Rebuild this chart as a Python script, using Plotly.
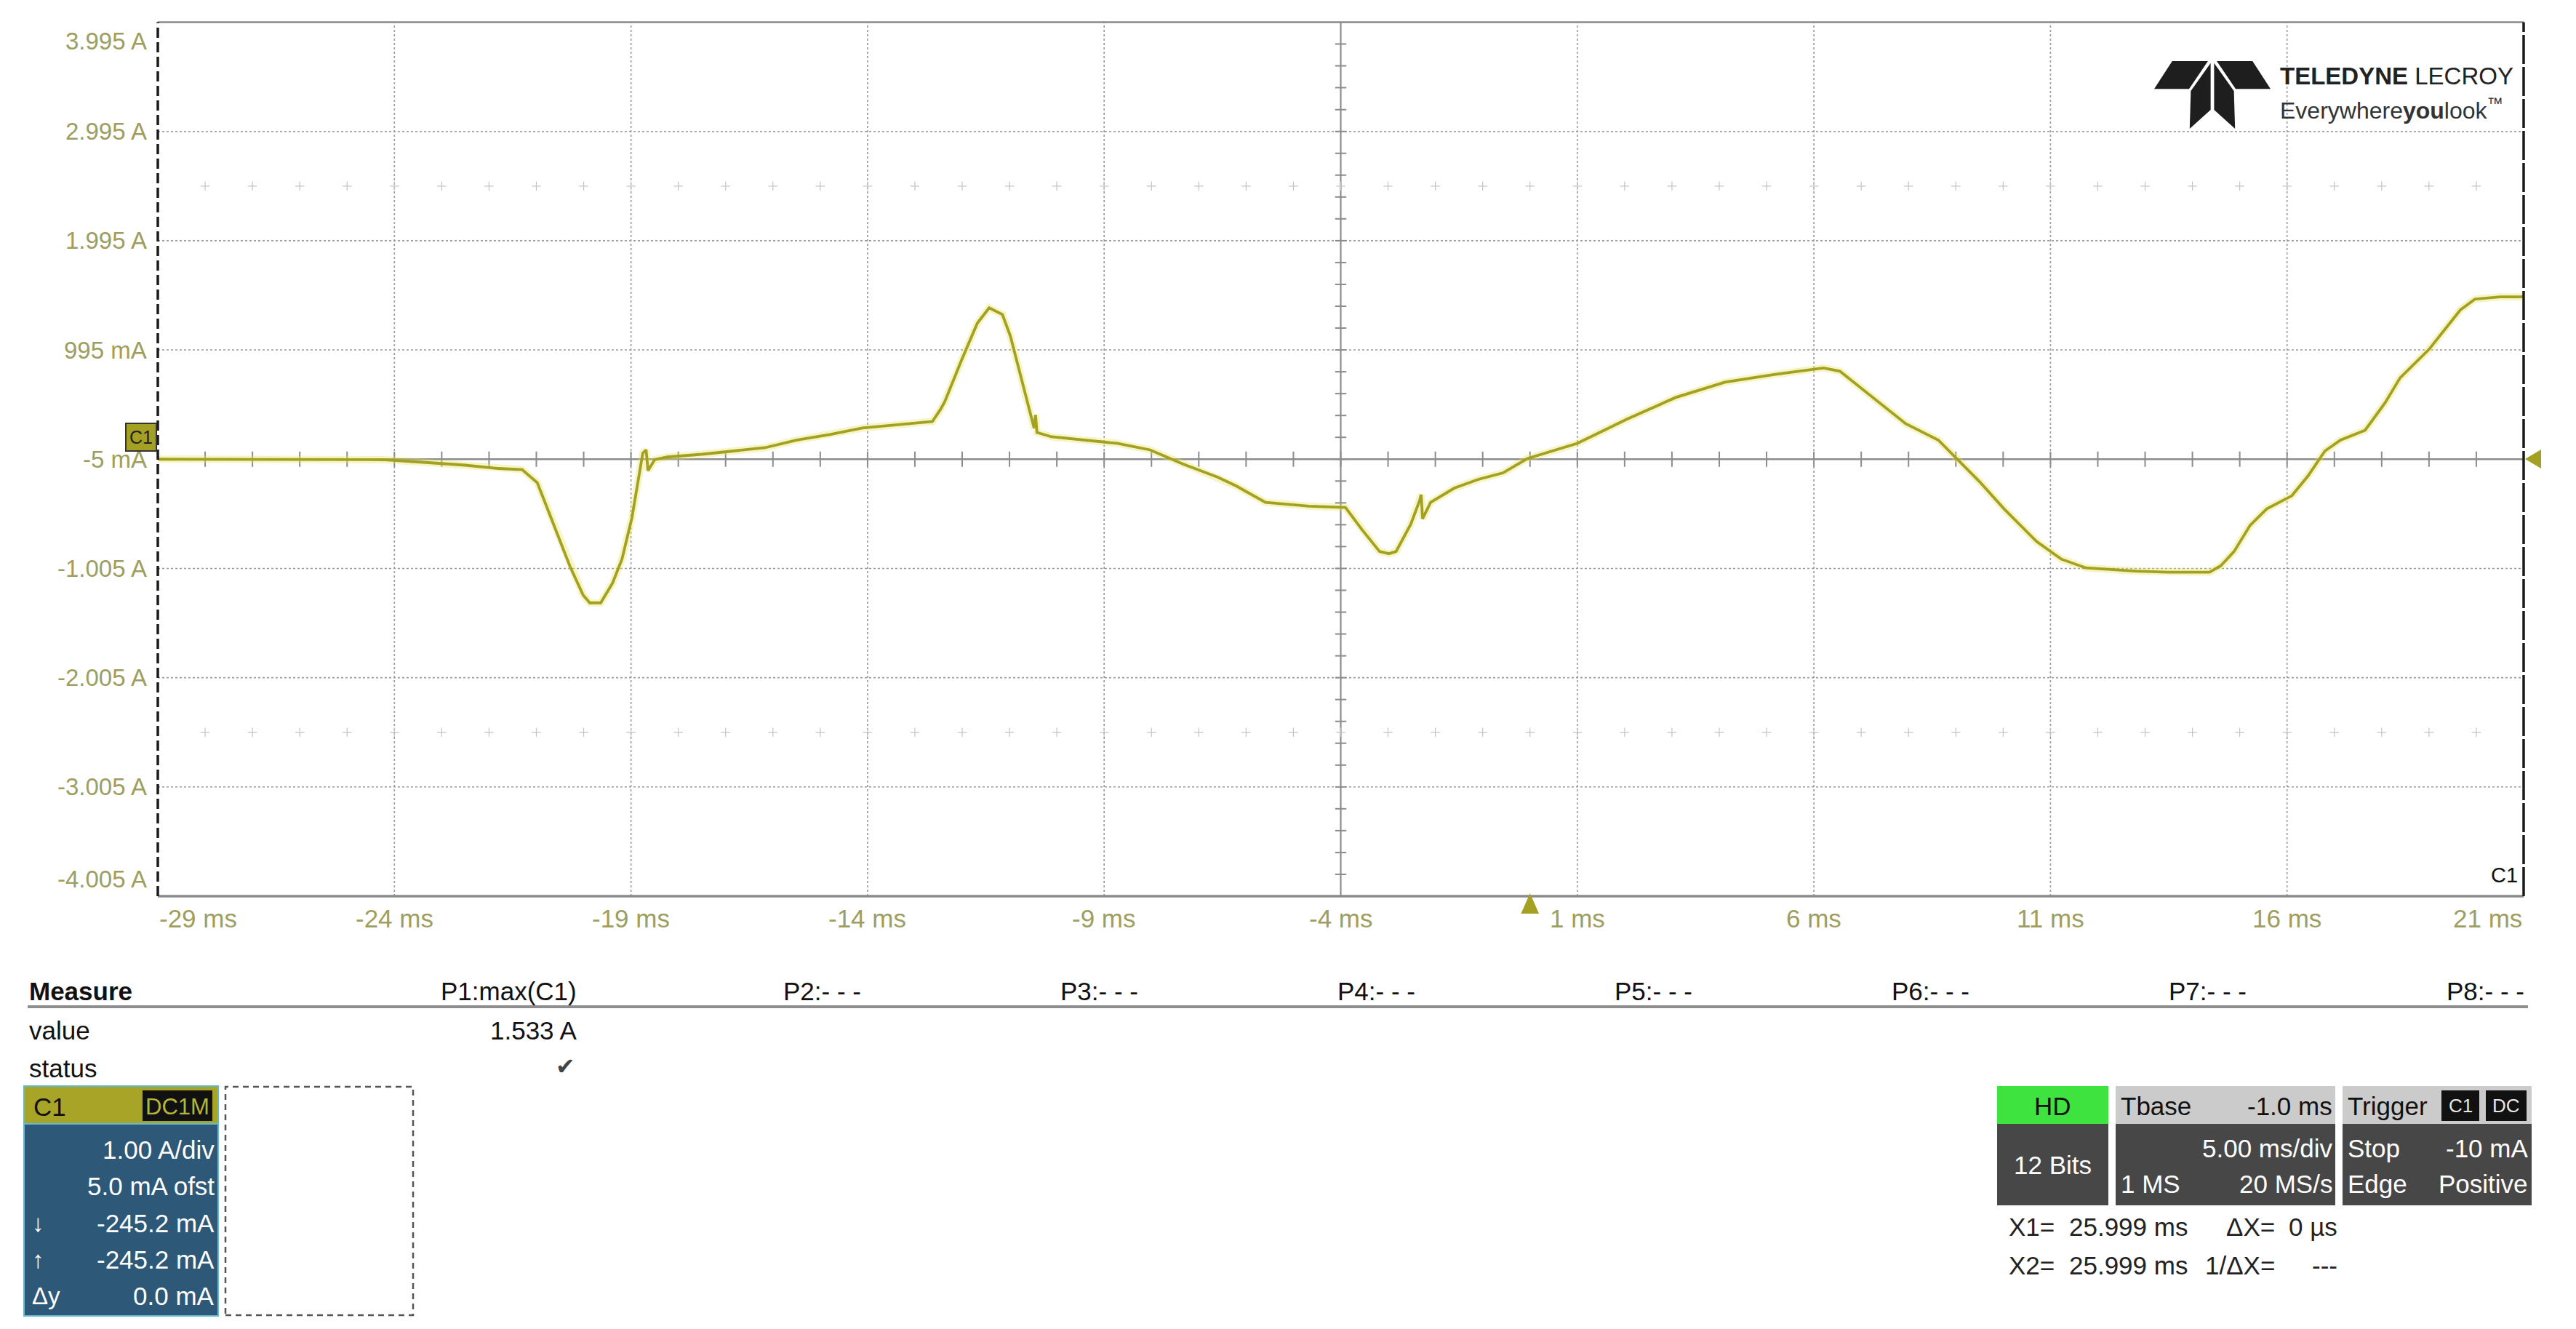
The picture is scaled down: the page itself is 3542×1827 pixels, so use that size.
import plotly.graph_objects as go

W, H = 3542, 1827
FONT = "Liberation Sans, Arial, sans-serif"
OLIVE = "#A3A022"
LABEL = "#9E9E60"

# ---------------- data ----------------
time_ms = [
    -29.0, -27.0, -25.0, -24.2, -23.5, -22.5, -21.8, -21.3,
    -20.98, -20.63, -20.29, -20.01, -19.87, -19.64, -19.39, -19.19, -18.98, -18.84,
    -18.75, -18.68, -18.64, -18.5, -18.23, -17.5, -16.86, -16.17, -15.49, -14.8,
    -14.11, -13.4, -12.63, -12.46, -12.37, -12.02, -11.68, -11.43, -11.15, -10.98,
    -10.8, -10.57, -10.48, -10.45, -10.42, -10.11, -9.4, -8.73, -8.03, -7.33, -6.6,
    -6.21, -5.59, -4.67, -3.9, -3.55, -3.18, -2.98, -2.83, -2.52, -2.33, -2.30, -2.27,
    -2.1, -1.6, -1.09, -0.57, -0.06, 1.0, 2.04, 3.08, 4.12, 5.16, 6.2, 6.55, 6.9,
    7.42, 7.94, 8.63, 8.98, 9.5, 10.02, 10.71, 11.23, 11.75, 12.8, 13.49, 14.36,
    14.6, 14.88, 15.22, 15.57, 16.1, 16.44, 16.8, 17.13, 17.65, 18.07, 18.39, 19.0,
    19.42, 19.66, 19.97, 20.5, 20.95, 21.0,
]
current_A = [
    -0.005, -0.005, -0.005, -0.01, -0.03, -0.06, -0.09, -0.10,
    -0.22, -0.60, -0.985, -1.25, -1.32, -1.32, -1.14, -0.92, -0.54, -0.18,
    0.05, 0.08, -0.11, -0.01, 0.015, 0.04, 0.07, 0.10, 0.17, 0.22,
    0.28, 0.31, 0.34, 0.45, 0.52, 0.895, 1.24, 1.38, 1.32, 1.12,
    0.82, 0.44, 0.28, 0.40, 0.24, 0.20, 0.17, 0.14, 0.08, -0.05, -0.17,
    -0.25, -0.40, -0.435, -0.447, -0.65, -0.85, -0.87, -0.85, -0.60, -0.38, -0.33, -0.55,
    -0.40, -0.27, -0.19, -0.13, 0.0, 0.14, 0.36, 0.56, 0.70, 0.77, 0.83, 0.80, 0.68,
    0.50, 0.32, 0.17, 0.02, -0.21, -0.46, -0.76, -0.92, -1.00, -1.03, -1.04, -1.04,
    -0.98, -0.85, -0.61, -0.46, -0.34, -0.16, 0.07, 0.17, 0.26, 0.51, 0.74, 1.00,
    1.23, 1.36, 1.46, 1.48, 1.48, 1.49,
]

x_tick_vals = [-29, -24, -19, -14, -9, -4, 1, 6, 11, 16, 21]
x_tick_labels = ["-29 ms", "-24 ms", "-19 ms", "-14 ms", "-9 ms", "-4 ms",
                 "1 ms", "6 ms", "11 ms", "16 ms", "21 ms"]
y_tick_vals = [3.995, 2.995, 1.995, 0.995, -0.005, -1.005, -2.005, -3.005, -4.005]
y_tick_labels = ["3.995 A", "2.995 A", "1.995 A", "995 mA", "-5 mA",
                 "-1.005 A", "-2.005 A", "-3.005 A", "-4.005 A"]

X_RANGE = [-29, 21]
Y_RANGE = [-4.005, 3.995]
X_CENTER = -4
Y_CENTER = -0.005
trigger_time_ms = 0.0

measure_headers = ["P1:max(C1)", "P2:- - -", "P3:- - -", "P4:- - -",
                   "P5:- - -", "P6:- - -", "P7:- - -", "P8:- - -"]
measure_value = "1.533 A"

c1_rows = ["1.00 A/div", "5.0 mA ofst", "-245.2 mA", "-245.2 mA", "0.0 mA"]
c1_symbols = ["", "", "\u2193", "\u2191", "\u0394y"]

# ---------------- helpers ----------------
def px(x):
    return x / W

def py(y):
    return 1 - y / H

PLOT_L, PLOT_R, PLOT_T, PLOT_B = 217, 3470, 30.5, 1232

fig = go.Figure()

annotations = []
shapes = []

def txt(x, y, s, size=35, color="#111", xanchor="left", yanchor="middle", family=FONT, **kw):
    annotations.append(dict(x=px(x), y=py(y), xref="paper", yref="paper", text=s,
                            showarrow=False, xanchor=xanchor, yanchor=yanchor,
                            font=dict(family=family, size=size, color=color), **kw))

def rect(x0, y0, x1, y1, fill=None, line_color=None, lw=0, dash=None, layer="above"):
    ln = dict(width=lw, color=line_color or "rgba(0,0,0,0)")
    if dash:
        ln["dash"] = dash
    shapes.append(dict(type="rect", xref="paper", yref="paper",
                       x0=px(x0), x1=px(x1), y0=py(y1), y1=py(y0),
                       fillcolor=fill or "rgba(0,0,0,0)", line=ln, layer=layer))

def poly(points, fill, xref="paper", yref="paper", layer="above"):
    d = "M " + " L ".join(f"{a},{b}" for a, b in points) + " Z"
    shapes.append(dict(type="path", path=d, xref=xref, yref=yref,
                       fillcolor=fill, line=dict(width=0), layer=layer))

# ---------------- grid ----------------
for xv in x_tick_vals[1:-1]:
    if xv == X_CENTER:
        continue
    shapes.append(dict(type="line", xref="x", yref="y domain", x0=xv, x1=xv, y0=0, y1=1,
                       line=dict(color="#9a9a9a", width=1.6, dash="dot"), layer="below"))
for yv in y_tick_vals[1:-1]:
    if yv == Y_CENTER:
        continue
    shapes.append(dict(type="line", xref="x domain", yref="y", x0=0, x1=1, y0=yv, y1=yv,
                       line=dict(color="#9a9a9a", width=1.6, dash="dot"), layer="below"))
# center axes
shapes.append(dict(type="line", xref="x", yref="y domain", x0=X_CENTER, x1=X_CENTER, y0=0, y1=1,
                   line=dict(color="#8c8c8c", width=2.2), layer="below"))
shapes.append(dict(type="line", xref="x domain", yref="y", x0=0, x1=1, y0=Y_CENTER, y1=Y_CENTER,
                   line=dict(color="#8c8c8c", width=2.4), layer="below"))
# borders
shapes.append(dict(type="line", xref="x domain", yref="y domain", x0=0, x1=1, y0=1, y1=1,
                   line=dict(color="#8a8a8a", width=2.5), layer="below"))
shapes.append(dict(type="line", xref="x domain", yref="y domain", x0=0, x1=1, y0=0, y1=0,
                   line=dict(color="#8a8a8a", width=3.5), layer="below"))
shapes.append(dict(type="line", xref="x domain", yref="y domain", x0=0, x1=0, y0=0, y1=1,
                   line=dict(color="#1a1a1a", width=3.5, dash="14px,6px"), layer="above"))
shapes.append(dict(type="line", xref="x domain", yref="y domain", x0=1, x1=1, y0=0, y1=1,
                   line=dict(color="#1a1a1a", width=3.5, dash="40px,4px"), layer="above"))

# tick marks on the center axes
minor_x = [X_RANGE[0] + i for i in range(1, int(X_RANGE[1] - X_RANGE[0]))]
minor_y = [Y_RANGE[0] + 0.2 * i for i in range(1, 40)]
fig.add_trace(go.Scatter(x=minor_x, y=[Y_CENTER] * len(minor_x), mode="markers",
                         marker=dict(symbol="line-ns", size=15, line=dict(width=2, color="#8c8c8c")),
                         hoverinfo="skip", showlegend=False))
fig.add_trace(go.Scatter(x=[X_CENTER] * len(minor_y), y=minor_y, mode="markers",
                         marker=dict(symbol="line-ew", size=11, line=dict(width=2, color="#8c8c8c")),
                         hoverinfo="skip", showlegend=False))
# faint minor crosses at +/- 2.5 div
for yy in (Y_CENTER + 2.5, Y_CENTER - 2.5):
    fig.add_trace(go.Scatter(x=minor_x, y=[yy] * len(minor_x), mode="markers",
                             marker=dict(symbol="cross-thin", size=9, line=dict(width=1.2, color="#c4c4c4")),
                             hoverinfo="skip", showlegend=False))

# ---------------- trace ----------------
fig.add_trace(go.Scatter(x=time_ms, y=current_A, mode="lines",
                         line=dict(color="rgba(225,225,90,0.35)", width=10),
                         hoverinfo="skip", showlegend=False))
fig.add_trace(go.Scatter(x=time_ms, y=current_A, mode="lines",
                         line=dict(color=OLIVE, width=3.8), name="C1", showlegend=False))

# ---------------- axis labels ----------------
for v, lab in zip(y_tick_vals, y_tick_labels):
    if v == Y_RANGE[1]:
        annotations.append(dict(x=px(204), y=py(57), xref="paper", yref="paper", text=lab,
                                showarrow=False, xanchor="right", yanchor="middle",
                                font=dict(family=FONT, size=33, color=LABEL)))
    elif v == Y_RANGE[0]:
        annotations.append(dict(x=px(204), y=py(1208), xref="paper", yref="paper", text=lab,
                                showarrow=False, xanchor="right", yanchor="middle",
                                font=dict(family=FONT, size=33, color=LABEL)))
    else:
        annotations.append(dict(x=px(204), y=v, xref="paper", yref="y", text=lab,
                                showarrow=False, xanchor="right", yanchor="middle",
                                font=dict(family=FONT, size=33, color=LABEL)))
for v, lab in zip(x_tick_vals, x_tick_labels):
    xa = "center"
    if v == X_RANGE[0]:
        xa = "left"
    elif v == X_RANGE[1]:
        xa = "right"
    annotations.append(dict(x=v, y=py(1262), xref="x", yref="paper", text=lab,
                            showarrow=False, xanchor=xa, yanchor="middle",
                            font=dict(family=FONT, size=35, color=LABEL)))

# C1 badge on left of the trace
annotations.append(dict(x=px(194), y=py(601), xref="paper", yref="paper", text="C1",
                        showarrow=False, xanchor="center", yanchor="middle",
                        font=dict(family=FONT, size=25, color="#222"),
                        bgcolor="#A4A024", bordercolor="#333", borderwidth=2, borderpad=4))
# right ground marker
poly([(px(3472), py(631)), (px(3494), py(618)), (px(3494), py(644))], OLIVE)
# trigger marker under the axis
shapes.append(dict(type="path", xref="x", yref="paper",
                   path=f"M {trigger_time_ms - 0.19},{py(1256)} L {trigger_time_ms + 0.19},{py(1256)} "
                        f"L {trigger_time_ms},{py(1228)} Z",
                   fillcolor=OLIVE, line=dict(width=0), layer="above"))
txt(3464, 1203, "C1", size=29, color="#111", xanchor="right")

# ---------------- logo ----------------
LX0, LY0, LW, LH = 2962, 84, 160, 93
def lp(u, v):
    return (px(LX0 + u * LW), py(LY0 + v * LH))
LOGO = "#1e1e1e"
poly([lp(0.155, 0), lp(0.462, 0), lp(0.30, 0.41), lp(0.0, 0.41)], LOGO)
poly([lp(0.538, 0), lp(0.845, 0), lp(1.0, 0.41), lp(0.70, 0.41)], LOGO)
poly([lp(0.315, 0.44), lp(0.485, 0.03), lp(0.485, 0.72), lp(0.305, 1.0)], LOGO)
poly([lp(0.515, 0.03), lp(0.685, 0.44), lp(0.695, 1.0), lp(0.515, 0.72)], LOGO)
txt(3133, 104, "<b>TELEDYNE</b> LECROY", size=33, color="#222")
txt(3133, 150, "Everywhere<b>you</b>look<sup>\u2122</sup>", size=32, color="#333")

# ---------------- measure table ----------------
shapes.append(dict(type="line", xref="paper", yref="paper", x0=px(38), x1=px(3476),
                   y0=py(1384), y1=py(1384), line=dict(color="#8e8e8e", width=4)))
txt(38, 1362, "<b>Measure</b>", size=35)
meas_right = [795, 1186, 1567, 1948, 2329, 2710, 3091, 3473]
for xr, lab in zip(meas_right, measure_headers):
    txt(xr, 1362, lab, size=35, xanchor="right")
txt(38, 1416, "value", size=35)
txt(795, 1416, measure_value, size=35, xanchor="right")
txt(38, 1468, "status", size=35)
txt(793, 1466, "\u2714", size=32, color="#444", xanchor="right")

# ---------------- C1 channel panel ----------------
rect(33, 1545, 300, 1809, fill="#2D5878", line_color="#66b8cc", lw=2)
rect(33, 1493, 300, 1545, fill="#A8A428", line_color="#66b8cc", lw=2)
rect(196, 1499, 292, 1541, fill="#111111")
txt(44, 1521, "C1", size=35, color="#111")
txt(244, 1521, "DC1M", size=31, color="#B8B43A", xanchor="center")
row_y = [1580, 1630, 1681, 1731, 1781]
for yv, s, sym in zip(row_y, c1_rows, c1_symbols):
    txt(297, yv, s, size=35, color="#ffffff", xanchor="right")
    if sym:
        txt(42, yv, sym, size=33, color="#ffffff")
rect(310, 1494, 568, 1808, line_color="#555555", lw=2.5, dash="8px,6px")

# ---------------- timebase / trigger panels ----------------
DARK = "#474747"
rect(2746, 1493, 2899, 1545, fill="#3FE33F")
rect(2746, 1545, 2899, 1657, fill=DARK)
txt(2822, 1520, "HD", size=35, color="#111", xanchor="center")
txt(2822, 1601, "12 Bits", size=35, color="#ffffff", xanchor="center")

rect(2909, 1493, 3211, 1545, fill="#CBCBCB")
rect(2909, 1545, 3211, 1657, fill=DARK)
txt(2914, 1520, "Tbase", size=35, color="#111")
txt(3209, 1520, "-1.0 ms", size=35, color="#111", xanchor="right")
txt(3209, 1578, "5.00 ms/div", size=35, color="#ffffff", xanchor="right")
txt(2914, 1627, "1 MS", size=35, color="#ffffff")
txt(3209, 1627, "20 MS/s", size=35, color="#ffffff", xanchor="right")

rect(3221, 1493, 3481, 1545, fill="#CBCBCB")
rect(3221, 1545, 3481, 1657, fill=DARK)
txt(3226, 1520, "Trigger", size=35, color="#111")
rect(3357, 1499, 3409, 1541, fill="#111111")
rect(3418, 1499, 3474, 1541, fill="#111111")
txt(3383, 1520, "C1", size=26, color="#e6e6e6", xanchor="center")
txt(3446, 1520, "DC", size=26, color="#e6e6e6", xanchor="center")
txt(3226, 1578, "Stop", size=35, color="#ffffff")
txt(3478, 1578, "-10 mA", size=35, color="#ffffff", xanchor="right")
txt(3226, 1627, "Edge", size=35, color="#ffffff")
txt(3478, 1627, "Positive", size=35, color="#ffffff", xanchor="right")

# cursor readouts
txt(2760, 1686, "X1=", size=35, color="#222")
txt(3010, 1686, "25.999 ms", size=35, color="#222", xanchor="right")
txt(3130, 1686, "\u0394X=", size=35, color="#222", xanchor="right")
txt(3216, 1686, "0 \u00b5s", size=35, color="#222", xanchor="right")
txt(2760, 1739, "X2=", size=35, color="#222")
txt(3010, 1739, "25.999 ms", size=35, color="#222", xanchor="right")
txt(3130, 1739, "1/\u0394X=", size=35, color="#222", xanchor="right")
txt(3216, 1739, "---", size=35, color="#222", xanchor="right")

# ---------------- layout ----------------
fig.update_layout(
    width=W, height=H,
    margin=dict(l=0, r=0, t=0, b=0),
    paper_bgcolor="white", plot_bgcolor="white",
    showlegend=False,
    xaxis=dict(domain=[px(PLOT_L), px(PLOT_R)], range=X_RANGE, showgrid=False, zeroline=False,
               showticklabels=False, ticks="", showline=False, fixedrange=True),
    yaxis=dict(domain=[py(PLOT_B), py(PLOT_T)], range=Y_RANGE, showgrid=False, zeroline=False,
               showticklabels=False, ticks="", showline=False, fixedrange=True),
    annotations=annotations,
    shapes=shapes,
)

fig.write_html("out.html", config={"displayModeBar": False},
               post_script="document.body.style.margin='0px';")
